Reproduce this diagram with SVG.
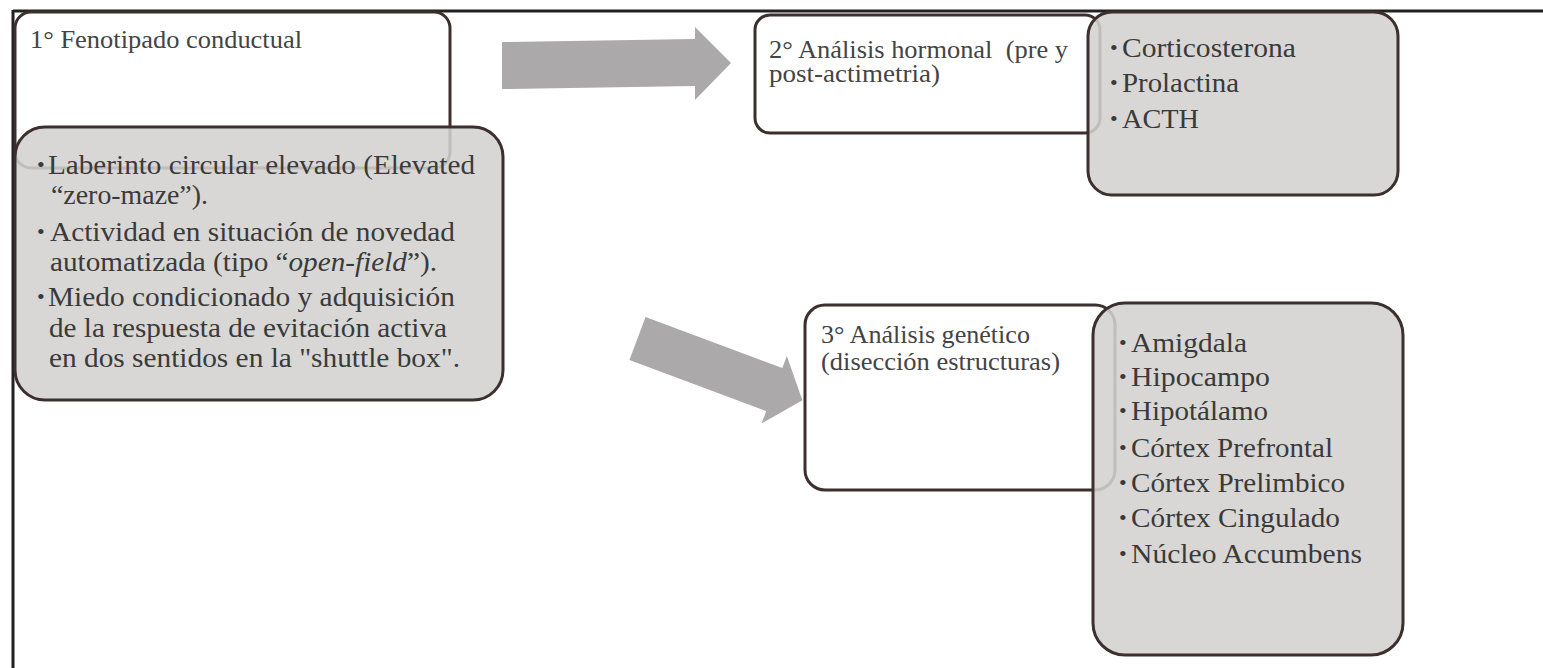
<svg xmlns="http://www.w3.org/2000/svg" width="1543" height="668" viewBox="0 0 1543 668">
<style>
.frame{stroke:#222;stroke-width:3;fill:none}
.wbox{fill:#fff;stroke:#3b302e;stroke-width:3}
.gbox{fill:#d3d1cf;fill-opacity:0.88;stroke:#3b302e;stroke-width:3}
.arrow{fill:#aba9a9}
text{font-family:Liberation Serif,DejaVu Serif,Times New Roman,Times,serif}
.hd{font-size:25px;fill:#444;}
.li{font-size:27px;fill:#3a3a3a;}
.bu{font-size:22px;fill:#3a3a3a;}
</style>
<rect width="1543" height="668" fill="#fff"/>
<g id="frame">
<line class="frame" x1="13" y1="11" x2="1543" y2="11"/>
<line class="frame" x1="13" y1="10" x2="13" y2="668"/>
</g>
<g id="connectors">
<polygon class="arrow" points="502,42 695,39 695,27 731,63 695,100 695,86 502,89"/>
<polygon class="arrow" transform="translate(637.5,338.5) rotate(20.5)" points="0,-23 146,-23 146,-36 176,0 146,36 146,23 0,23"/>
</g>
<g id="node-fenotipado">
<rect class="wbox" x="15" y="12" width="435" height="156" rx="16"/>
<text class="hd" x="30" y="48" textLength="272" lengthAdjust="spacingAndGlyphs">1° Fenotipado conductual</text>
</g>
<g id="node-pruebas">
<rect class="gbox" x="15" y="127" width="488" height="273" rx="30"/>
<text class="bu" x="37" y="172">•</text>
<text class="li" x="48" y="174" textLength="427" lengthAdjust="spacingAndGlyphs">Laberinto circular elevado (Elevated</text>
<text class="li" x="51" y="204" textLength="157" lengthAdjust="spacingAndGlyphs">“zero-maze”).</text>
<text class="bu" x="37" y="239">•</text>
<text class="li" x="50" y="241" textLength="405" lengthAdjust="spacingAndGlyphs">Actividad en situación de novedad</text>
<text class="li" x="50" y="271" textLength="387" lengthAdjust="spacingAndGlyphs">automatizada (tipo “<tspan font-style="italic">open-field</tspan>”).</text>
<text class="bu" x="37" y="304">•</text>
<text class="li" x="48" y="306" textLength="407" lengthAdjust="spacingAndGlyphs">Miedo condicionado y adquisición</text>
<text class="li" x="49" y="337" textLength="398" lengthAdjust="spacingAndGlyphs">de la respuesta de evitación activa</text>
<text class="li" x="49" y="367" textLength="411" lengthAdjust="spacingAndGlyphs">en dos sentidos en la "shuttle box".</text>
</g>
<g id="node-hormonal">
<rect class="wbox" x="755" y="15" width="345" height="118" rx="15"/>
<text class="hd" x="769" y="58" textLength="299" lengthAdjust="spacingAndGlyphs">2° Análisis hormonal&#160; (pre y</text>
<text class="hd" x="769" y="82" textLength="171" lengthAdjust="spacingAndGlyphs">post-actimetria)</text>
</g>
<g id="node-hormonas">
<rect class="gbox" x="1088" y="12" width="310" height="183" rx="24"/>
<text class="bu" x="1110" y="55">•</text>
<text class="li" x="1122" y="57" textLength="174" lengthAdjust="spacingAndGlyphs">Corticosterona</text>
<text class="bu" x="1110" y="90">•</text>
<text class="li" x="1122" y="92" textLength="117" lengthAdjust="spacingAndGlyphs">Prolactina</text>
<text class="bu" x="1110" y="126">•</text>
<text class="li" x="1122" y="128" textLength="77" lengthAdjust="spacingAndGlyphs">ACTH</text>
</g>
<g id="node-genetico">
<rect class="wbox" x="805" y="305" width="310" height="185" rx="20"/>
<text class="hd" x="821" y="343" textLength="209" lengthAdjust="spacingAndGlyphs">3° Análisis genético</text>
<text class="hd" x="821" y="370" textLength="239" lengthAdjust="spacingAndGlyphs">(disección estructuras)</text>
</g>
<g id="node-estructuras">
<rect class="gbox" x="1093" y="303" width="310" height="352" rx="32"/>
<text class="bu" x="1119" y="350">•</text>
<text class="li" x="1131" y="352" textLength="116" lengthAdjust="spacingAndGlyphs">Amigdala</text>
<text class="bu" x="1119" y="384">•</text>
<text class="li" x="1131" y="386" textLength="139" lengthAdjust="spacingAndGlyphs">Hipocampo</text>
<text class="bu" x="1119" y="418">•</text>
<text class="li" x="1131" y="420" textLength="137" lengthAdjust="spacingAndGlyphs">Hipotálamo</text>
<text class="bu" x="1119" y="455">•</text>
<text class="li" x="1131" y="457" textLength="202" lengthAdjust="spacingAndGlyphs">Córtex Prefrontal</text>
<text class="bu" x="1119" y="490">•</text>
<text class="li" x="1131" y="492" textLength="214" lengthAdjust="spacingAndGlyphs">Córtex Prelimbico</text>
<text class="bu" x="1119" y="525">•</text>
<text class="li" x="1131" y="527" textLength="209" lengthAdjust="spacingAndGlyphs">Córtex Cingulado</text>
<text class="bu" x="1119" y="561">•</text>
<text class="li" x="1131" y="563" textLength="231" lengthAdjust="spacingAndGlyphs">Núcleo Accumbens</text>
</g>
</svg>
